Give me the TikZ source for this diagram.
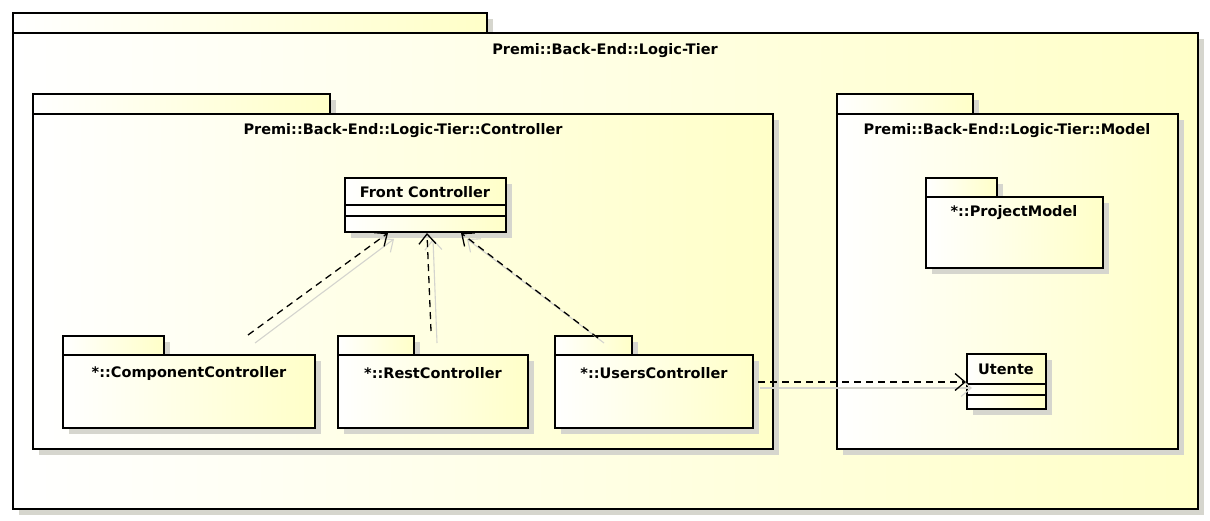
\documentclass[tikz,border=0pt]{standalone}
\usepackage{fontspec}
\setmainfont{DejaVu Sans}
\usetikzlibrary{arrows.meta,shadows}
\definecolor{pkgyellow}{RGB}{255,255,200}
\definecolor{shadowgray}{RGB}{214,214,206}
\definecolor{lineshadow}{RGB}{212,212,206}
\tikzset{
  box/.style={draw=black, line width=2.6pt, left color=white, right color=pkgyellow,
    drop shadow={shadow xshift=6pt, shadow yshift=-6pt, fill=shadowgray, opacity=1},
    inner sep=0pt, outer sep=0pt, anchor=north west},
  lbl/.style={font=\fontsize{14.5}{17}\selectfont\bfseries, inner sep=0pt, anchor=center},
  compart/.style={line width=1.2pt},
  dep/.style={line width=1.3pt, dash pattern=on 7pt off 5pt,
    -{Straight Barb[length=10pt,width=17pt,line width=1.3pt]}},
  depshadow/.style={line width=1.1pt, draw=lineshadow,
    -{Straight Barb[length=10pt,width=17pt,line width=1.1pt]}},
}
\begin{document}
\begin{tikzpicture}[x=1pt,y=-1pt]
\useasboundingbox (0,0) rectangle (1210,521);
% outer package
\node[box, minimum width=474pt, minimum height=20pt] (outerTab) at (13,13) {};
\node[box, minimum width=1185pt, minimum height=476pt] (outer) at (13,33) {};
\node[lbl] (outerT) at (605,51) {Premi::Back-End::Logic-Tier};
% controller package
\node[box, minimum width=297pt, minimum height=20pt] (ctrlTab) at (33,94) {};
\node[box, minimum width=740pt, minimum height=335pt] (ctrl) at (33,114) {};
\node[lbl] (ctrlT) at (403,131) {Premi::Back-End::Logic-Tier::Controller};
% model package
\node[box, minimum width=136pt, minimum height=20pt] (modelTab) at (837,94) {};
\node[box, minimum width=341pt, minimum height=335pt] (model) at (837,114) {};
\node[lbl] (modelT) at (1007,131) {Premi::Back-End::Logic-Tier::Model};
% project model
\node[box, minimum width=71pt, minimum height=19pt] (pmTab) at (926,178) {};
\node[box, minimum width=177pt, minimum height=71pt] (pm) at (926,197) {};
\node[lbl] (pmT) at (1014,213) {*::ProjectModel};
% Front Controller class
\node[box, minimum width=161pt, minimum height=54pt] (fc) at (345,178) {};
\node[lbl] (fcT) at (425,192) {Front Controller};
\draw[compart] (fc.west |- 0,205) -- (fc.east |- 0,205);
\draw[compart] (fc.west |- 0,216) -- (fc.east |- 0,216);
% Utente class
\node[box, minimum width=79pt, minimum height=55pt] (ut) at (967,354) {};
\node[lbl] (utT) at (1006,369) {Utente};
\draw[compart] (ut.west |- 0,384) -- (ut.east |- 0,384);
\draw[compart] (ut.west |- 0,395) -- (ut.east |- 0,395);
% component controller
\node[box, minimum width=101pt, minimum height=19pt] (ccTab) at (63,336) {};
\node[box, minimum width=252pt, minimum height=73pt] (cc) at (63,355) {};
\node[lbl] (ccT) at (189,373) {*::ComponentController};
% rest controller
\node[box, minimum width=76pt, minimum height=19pt] (rcTab) at (338,336) {};
\node[box, minimum width=190pt, minimum height=73pt] (rc) at (338,355) {};
\node[lbl] (rcT) at (433,373) {*::RestController};
% users controller
\node[box, minimum width=77pt, minimum height=19pt] (ucTab) at (555,336) {};
\node[box, minimum width=198pt, minimum height=73pt] (uc) at (555,355) {};
\node[lbl] (ucT) at (654,373) {*::UsersController};
% connector end points
\coordinate (ccS) at (248,335);
\coordinate (ccE) at (388,233);
\coordinate (rcS) at (431,331);
\coordinate (rcE) at (427,233);
\coordinate (ucS) at (598,338);
\coordinate (ucE) at (461,233);
\coordinate (uuS) at (758,382);
\coordinate (uuE) at (966,382);
\coordinate (ccSs) at (255,343);
\coordinate (ccEs) at (394,239);
\coordinate (rcSs) at (437,343);
\coordinate (rcEs) at (433,239);
\coordinate (ucSs) at (604,343);
\coordinate (ucEs) at (467,239);
\coordinate (uuSs) at (760,388);
\coordinate (uuEs) at (972,388);
% shadows of connectors
\draw[depshadow] (ccSs) -- (ccEs);
\draw[depshadow] (rcSs) -- (rcEs);
\draw[depshadow] (ucSs) -- (ucEs);
\draw[depshadow] (uuSs) -- (uuEs);
% dependencies
\draw[dep] (ccS) -- (ccE);
\draw[dep] (rcS) -- (rcE);
\draw[dep] (ucS) -- (ucE);
\draw[dep] (uuS) -- (uuE);
\end{tikzpicture}
\end{document}
